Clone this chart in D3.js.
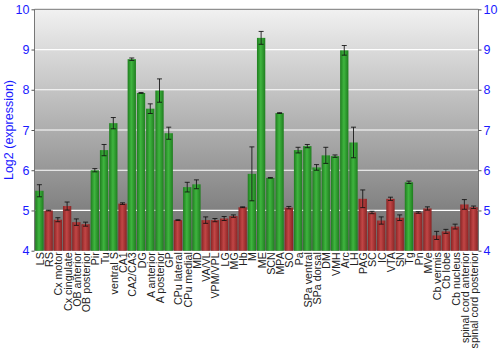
<!DOCTYPE html>
<html>
<head>
<meta charset="utf-8">
<script src="https://cdn.jsdelivr.net/npm/d3@7"></script>
<style>
body { margin: 0; background: #fff; }
text { font-family: "Liberation Sans", Arial, sans-serif; }
</style>
</head>
<body>
<script>
let regions = ["LS","RS","Cx motor","Cx cingulate","OB anterior","OB posterior","Pir","Tu","ventral S","CA1",
    "CA2/CA3","DG","A anterior","A posterior","GP","CPu lateral","CPu medial","MD","VA/VL","VPM/VPL",
    "LG","MG","Hb","M","ME","SCN","MPA","SO","Pa","SPa ventral","SPa dorsal","DM","VMH","Arc","LH",
    "PAG","SC","IC","VTA","SN","Tg","Pn","MVe","Cb vermis","Cb lobe","Cb nucleus",
    "spinal cord anterior","spinal cord posterior"];
let values = [5.49,5.0,4.77,5.11,4.71,4.66,6.0,6.5,7.17,5.17,
    8.76,7.92,7.53,7.98,6.92,4.76,5.58,5.65,4.76,4.76,
    4.8,4.86,5.08,5.91,9.29,5.81,7.42,5.07,6.5,6.6,6.07,6.37,6.35,8.98,6.69,
    5.29,4.95,4.75,5.29,4.82,5.7,4.95,5.05,4.38,4.48,4.6,5.15,5.08];
let errors = [0.15,0.01,0.05,0.1,0.08,0.05,0.04,0.14,0.14,0.02,
    0.03,0.01,0.12,0.29,0.15,0.01,0.12,0.11,0.08,0.04,
    0.05,0.03,0.01,0.67,0.16,0.01,0.01,0.03,0.07,0.04,0.07,0.2,0.03,0.12,0.38,
    0.22,0.03,0.09,0.04,0.07,0.03,0.02,0.04,0.1,0.05,0.06,0.12,0.03];
// g = enriched (green), r = depleted (red)
let groups = ["g","r","r","r","r","r","g","g","g","r",
    "g","g","g","g","g","r","g","g","r","r",
    "r","r","r","g","g","g","g","r","g","g","g","g","g","g","g",
    "r","r","r","r","r","g","r","r","r","r","r","r","r"];
let yTicks = [4,5,6,7,8,9,10];

let mLeft = 34.5, mRight = 478.5, mTop = 9.3, mBottom = 250.7;
let W = 500, H = 350;

let svg = d3.select("body").append("svg")
    .attr("width", W)
    .attr("height", H);

let defs = svg.append("defs");
let bg = defs.append("linearGradient").attr("id","bg")
    .attr("x1",0).attr("y1",0).attr("x2",0).attr("y2",1);
bg.append("stop").attr("offset","0%").attr("stop-color","#f1f1f1");
bg.append("stop").attr("offset","100%").attr("stop-color","#6a6a6a");

function barGrad(id, edge, mid) {
    let g = defs.append("linearGradient").attr("id", id)
        .attr("x1",0).attr("y1",0).attr("x2",1).attr("y2",0);
    g.append("stop").attr("offset","0%").attr("stop-color",edge);
    g.append("stop").attr("offset","45%").attr("stop-color",mid);
    g.append("stop").attr("offset","100%").attr("stop-color",edge);
}
barGrad("gg", "#1f7d1f", "#3fb53f");
barGrad("gr", "#8a2424", "#c24646");

let x = d3.scaleBand()
    .domain(regions)
    .range([mLeft, mRight])
    .paddingInner(0.1)
    .paddingOuter(0.08);

let y = d3.scaleLinear()
    .domain([4, 10])
    .range([mBottom, mTop]);

svg.append("rect")
    .attr("x", mLeft).attr("y", mTop)
    .attr("width", mRight - mLeft).attr("height", mBottom - mTop)
    .attr("fill", "url(#bg)");

svg.selectAll(".grid")
    .data(yTicks.slice(1, -1))
    .enter().append("line")
    .attr("class","grid")
    .attr("x1", mLeft).attr("x2", mRight)
    .attr("y1", d => y(d)).attr("y2", d => y(d))
    .attr("stroke", "#fff")
    .attr("stroke-width", 1.2);

svg.selectAll(".bar")
    .data(values)
    .enter().append("rect")
    .attr("class","bar")
    .attr("x", (d,i) => x(regions[i]))
    .attr("y", d => y(d))
    .attr("width", x.bandwidth())
    .attr("height", d => y(4) - y(d))
    .attr("fill", (d,i) => groups[i] === "g" ? "url(#gg)" : "url(#gr)");

let err = svg.selectAll(".err")
    .data(values)
    .enter().append("g")
    .attr("class","err")
    .attr("stroke", "#111")
    .attr("stroke-opacity", 0.85)
    .attr("stroke-width", 1);
let cx = i => x(regions[i]) + x.bandwidth() / 2;
err.append("line")
    .attr("x1", (d,i) => cx(i)).attr("x2", (d,i) => cx(i))
    .attr("y1", (d,i) => y(d + errors[i])).attr("y2", (d,i) => y(d - errors[i]));
err.append("line")
    .attr("x1", (d,i) => cx(i) - 2.5).attr("x2", (d,i) => cx(i) + 2.5)
    .attr("y1", (d,i) => y(d + errors[i])).attr("y2", (d,i) => y(d + errors[i]));
err.append("line")
    .attr("x1", (d,i) => cx(i) - 2.5).attr("x2", (d,i) => cx(i) + 2.5)
    .attr("y1", (d,i) => y(d - errors[i])).attr("y2", (d,i) => y(d - errors[i]));

// frame
svg.append("path")
    .attr("d", `M${mLeft},${mBottom}V${mTop}H${mRight}V${mBottom}`)
    .attr("fill","none")
    .attr("stroke","#777")
    .attr("stroke-width",1);

let yl = d3.axisLeft(y).tickValues(yTicks).tickFormat(d3.format("d")).tickSize(3).tickPadding(2);
let yr = d3.axisRight(y).tickValues(yTicks).tickFormat(d3.format("d")).tickSize(3).tickPadding(2);
[svg.append("g").attr("transform", `translate(${mLeft},0)`).call(yl),
 svg.append("g").attr("transform", `translate(${mRight},0)`).call(yr)].forEach(g => {
    g.select(".domain").remove();
    g.selectAll(".tick line").attr("stroke","#555");
    g.selectAll("text").attr("fill","#1a1aff").style("font-size","12.5px")
        .style("font-family","'Liberation Sans', Arial, sans-serif");
});

svg.append("text")
    .attr("transform", `translate(13,${(mTop + mBottom) / 2}) rotate(-90)`)
    .attr("text-anchor","middle")
    .attr("fill","#1a1aff")
    .style("font-size","12.5px")
    .text("Log2 (expression)");

svg.selectAll(".xlab")
    .data(regions)
    .enter().append("text")
    .attr("class","xlab")
    .attr("transform", d => `translate(${x(d) + x.bandwidth() / 2 + 4.5},${mBottom + 1.5}) rotate(-90)`)
    .attr("text-anchor","end")
    .attr("fill","#222")
    .style("font-size","10.7px")
    .text(d => d);
</script>
</body>
</html>
